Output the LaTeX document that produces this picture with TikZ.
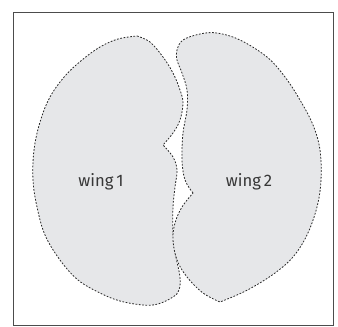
\documentclass[tikz,border=0pt]{standalone}
\usepackage{fontspec}
\setsansfont{Fira Sans}
\usepackage{tikz}
\usetikzlibrary{positioning}
\definecolor{wingfill}{RGB}{230,231,233}
\definecolor{labelgray}{RGB}{55,55,55}

\begin{document}
\begin{tikzpicture}[x=0.75pt,y=-0.75pt,
	wing/.style={fill=wingfill,draw=black!85,line width=0.6pt,dash pattern=on 1.3pt off 1.2pt},
	winglabel/.style={font=\sffamily\fontsize{12.5}{14}\selectfont,text=labelgray,inner sep=0pt}
]
	\useasboundingbox (0,0) rectangle (338,327);
	\draw[draw=black!70,line width=0.6pt] (13,12) rectangle (333,325);

	\draw[wing] plot[smooth,tension=0.6] coordinates {(137,36) (150,42) (163,57) (173,73) (180,90) (183,103) (180,120) (173,133) (163,145)}
		-- plot[smooth,tension=0.6] coordinates {(163,145) (173,157) (177,170) (175,187) (173,207) (173,233) (176,257) (180,277) (179,290) (173,297) (158,304) (143,305) (120,301) (100,293) (78,280) (60,260) (45,235) (37,207) (33,180) (34,150) (40,122) (50,97) (65,76) (82,60) (100,47) (118,39) (137,36)} -- cycle;

	\draw[wing] plot[smooth,tension=0.6] coordinates {(193,193) (185,180) (182,160) (183,133) (187,110) (187,90) (182,73) (177,60) (177,50) (183,40) (200,34) (217,33) (240,40) (267,57) (285,77) (300,100) (313,125) (320,150) (321,180) (317,207) (307,235) (293,257) (275,273) (253,287) (237,295) (220,302)}
		-- plot[smooth,tension=0.6] coordinates {(220,302) (203,293) (187,277) (177,260) (173,240) (175,223) (182,207) (193,193)} -- cycle;

	\node[winglabel] at (101,182) (wingA) {wing\,1};
	\node[winglabel] at (249,182) (wingB) {wing\,2};
\end{tikzpicture}
\end{document}
